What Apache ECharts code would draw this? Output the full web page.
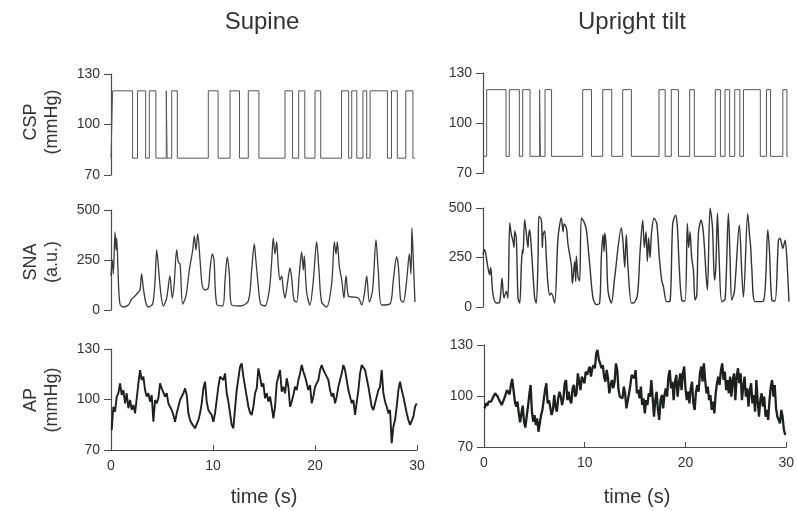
<!DOCTYPE html>
<html><head><meta charset="utf-8">
<script src="https://cdn.jsdelivr.net/npm/echarts@6/dist/echarts.min.js"></script>
<style>html,body{margin:0;padding:0;background:#fff}#c{width:797px;height:511px}</style>
</head><body><div id="c"></div>
<script>
// ---------- labels / ticks ----------
const columnTitles = ['Supine', 'Upright tilt'];
const rowNames = ['CSP\n(mmHg)', 'SNA\n(a.u.)', 'AP\n(mmHg)'];
const timeName = 'time (s)';
const timeTicks = [0, 10, 20, 30];
const pressureTicks = [70, 100, 130];
const snaTicks = [0, 250, 500];

// ---------- CSP (carotid sinus pressure), [time s, mmHg], held until next change ----------
const cspSupine = [[0,80],[0.16,120],[2.12,80],[2.6,120],[3.4,80],[3.76,120],[4.4,80],[5.42,120],[5.5,80],[5.95,120],[6.5,80],[9.54,120],[10.5,80],[11.67,120],[12.6,80],[13.46,120],[14.5,80],[17.06,120],[17.8,80],[18.4,120],[19.0,80],[20.0,120],[20.56,80],[22.6,120],[23.3,80],[23.6,120],[24.1,80],[24.7,120],[25.07,80],[25.4,120],[27.1,80],[27.5,120],[28.07,80],[28.9,120],[29.6,80],[29.8,80]];
const cspTilt = [[0,80],[0.36,120],[2.25,80],[2.57,120],[3.55,80],[3.88,120],[4.6,80],[5.53,120],[5.61,80],[6.06,120],[6.7,80],[9.74,120],[10.6,80],[11.7,120],[12.58,80],[13.65,120],[14.5,80],[17.2,120],[17.8,80],[18.4,120],[19.1,80],[20.2,120],[20.65,80],[22.7,120],[23.2,80],[23.65,120],[24.1,80],[24.6,120],[25.1,80],[25.45,120],[27.1,80],[27.7,120],[28.1,80],[29.3,120],[29.7,80],[29.8,80]];

// ---------- SNA (sympathetic nerve activity), [time s, a.u.] ----------
const snaSupine = [[0,170],[0.13,250],[0.23,180],[0.39,390],[0.49,300],[0.56,360],[0.72,150],[0.88,30],[1.2,15],[1.7,25],[2.03,55],[2.35,70],[2.61,85],[2.84,100],[3.0,180],[3.17,110],[3.4,40],[3.66,15],[4.08,30],[4.31,140],[4.48,300],[4.64,220],[4.87,90],[5.13,20],[5.46,60],[5.78,170],[6.0,60],[6.18,120],[6.44,300],[6.6,240],[6.77,230],[7.03,30],[7.35,70],[7.68,200],[8.01,300],[8.17,370],[8.33,300],[8.5,380],[8.73,250],[8.95,120],[9.22,100],[9.54,110],[9.7,200],[9.93,280],[10.1,250],[10.36,30],[10.95,20],[11.18,150],[11.4,265],[11.6,180],[11.83,25],[12.65,20],[13.46,45],[13.79,200],[14.05,330],[14.2,250],[14.44,120],[14.67,30],[15.1,20],[15.52,100],[15.75,240],[15.91,360],[16.08,280],[16.24,340],[16.4,220],[16.57,150],[16.73,170],[16.9,100],[17.06,60],[17.29,130],[17.55,210],[17.71,160],[17.94,50],[18.2,40],[18.46,180],[18.69,290],[18.86,200],[18.95,270],[19.18,90],[19.5,25],[19.84,150],[20.16,340],[20.39,200],[20.65,40],[21.14,15],[21.63,130],[21.9,340],[22.06,280],[22.19,340],[22.38,220],[22.62,150],[22.84,60],[23.04,170],[23.27,70],[23.6,65],[24.25,60],[24.58,25],[24.84,80],[25.07,170],[25.33,40],[25.65,100],[25.98,350],[26.2,200],[26.54,25],[27.35,30],[27.68,150],[28.0,265],[28.17,220],[28.4,50],[28.66,40],[28.99,150],[29.25,280],[29.41,180],[29.5,410],[29.64,250],[29.8,40]];
const snaTilt = [[0,264],[0.16,290],[0.33,250],[0.49,197],[0.65,163],[0.75,200],[0.98,62],[1.3,20],[1.63,25],[1.86,146],[2.05,45],[2.28,80],[2.44,45],[2.61,424],[2.77,365],[2.93,333],[3.03,300],[3.1,384],[3.26,343],[3.42,45],[3.59,20],[3.75,214],[3.85,290],[3.91,270],[4.07,441],[4.23,374],[4.4,300],[4.46,360],[4.56,390],[4.72,300],[5.05,45],[5.21,20],[5.38,247],[5.47,458],[5.7,440],[5.8,300],[5.87,365],[6.03,384],[6.19,247],[6.35,113],[6.52,60],[6.68,70],[7.0,20],[7.33,348],[7.66,450],[7.82,380],[7.92,420],[8.15,399],[8.31,315],[8.63,214],[8.73,120],[8.8,146],[8.96,230],[9.06,130],[9.12,258],[9.29,150],[9.45,131],[9.61,450],[9.87,430],[10.1,390],[10.43,214],[10.75,45],[11.08,12],[11.4,20],[11.56,250],[11.73,365],[11.83,280],[11.9,374],[12.05,300],[12.22,80],[12.54,20],[12.87,150],[13.52,399],[13.68,330],[13.85,200],[14.0,365],[14.17,200],[14.5,20],[14.7,20],[15.09,60],[15.35,280],[15.61,439],[15.77,300],[15.93,380],[16.06,230],[16.19,350],[16.32,250],[16.48,380],[16.72,448],[16.98,422],[17.23,250],[17.46,136],[17.63,103],[17.95,27],[18.28,30],[18.54,422],[18.83,464],[18.99,405],[19.18,200],[19.42,35],[19.75,30],[19.97,422],[20.1,300],[20.23,380],[20.39,250],[20.56,187],[20.72,35],[20.89,60],[21.05,372],[21.31,439],[21.54,372],[21.81,153],[21.93,86],[22.19,500],[22.42,405],[22.62,136],[22.75,200],[22.91,473],[23.07,254],[23.33,27],[23.66,40],[23.98,473],[24.14,254],[24.31,35],[24.57,80],[25.05,414],[25.29,170],[25.45,50],[25.87,473],[26.03,372],[26.16,300],[26.26,200],[26.59,27],[27.4,30],[27.83,389],[27.99,288],[28.22,35],[28.54,30],[28.87,338],[29.03,347],[29.3,296],[29.52,338],[29.68,254],[29.9,27]];

// ---------- AP (arterial pressure), sampled recordings, mmHg ----------
const apSupineStart = 0.07, apSupineStep = 0.1634; // seconds
const apSupine = [
81.9,95.7,92.8,101.7,103.7,109.6,102.7,105.6,97.7,103.7,
94.8,99.7,93.8,96.7,91.8,100.7,109.6,117.5,111.6,113.6,
105.6,101.7,103.7,98.7,102.7,86.8,99.7,97.7,100.7,109.6,
106.6,105.6,101.7,103.7,97.7,95.7,93.8,90.8,86.8,91.8,
95.7,99.7,100.7,103.7,106.6,102.7,91.8,87.8,85.8,84.9,
82.9,83.9,87.8,91.8,97.7,106.6,110.6,98.7,93.8,92.2,
90.8,86.8,91.8,99.7,107.6,113.6,114.6,111.6,115.5,103.7,
98.7,91.8,84.9,82.9,94.8,105.6,112.6,119.5,121.5,113.6,
107.6,101.7,95.7,92.2,90.8,95.7,103.7,106.6,118.5,113.6,
107.6,109.6,100.7,103.7,98.7,101.7,95.7,88.8,95.7,109.6,
113.6,117.5,104.7,107.6,103.7,112.6,107.6,95.7,98.7,102.7,
107.6,105.6,111.6,115.5,120.5,116.5,113.6,109.6,105.6,108.6,
97.7,101.7,107.6,109.6,111.6,117.5,120.5,117.5,115.5,113.6,
111.6,105.6,101.7,103.7,97.7,101.7,107.6,111.6,115.5,120.5,
117.5,111.6,105.6,101.7,97.7,99.7,90.8,89.8,105.6,115.5,
120.5,121.1,117.5,112.6,107.6,101.7,95.7,93.8,97.7,101.7,
105.6,107.6,117.5,103.7,98.7,95.7,91.8,93.8,74.0,83.9,
87.8,95.7,105.6,110.6,105.6,101.7,96.7,91.8,87.8,84.9,
83.9,89.8,95.7,97.7];
const apTiltStart = 0.065, apTiltStep = 0.1303; // seconds
const apTilt = [
92.7,95.7,94.3,96.7,97.6,96.7,98.6,99.6,101.6,102.5,
99.6,97.6,96.7,94.7,93.7,98.6,101.0,103.5,102.5,101.0,
106.5,110.0,103.5,96.7,93.7,96.7,89.8,84.5,89.8,94.3,
84.9,81.4,87.8,93.7,100.6,106.5,90.8,84.9,88.8,82.9,
86.9,79.0,78.6,88.8,91.8,90.8,103.5,107.5,95.7,97.6,
96.7,88.8,91.8,100.6,93.7,90.8,98.6,102.5,99.6,94.7,
98.6,107.5,109.4,97.6,102.5,97.6,95.7,104.5,106.5,99.6,
101.6,113.3,112.4,103.5,111.4,110.4,107.5,114.3,112.4,113.3,
117.3,111.4,116.3,118.2,116.3,125.1,127.1,121.2,119.2,116.3,
118.2,111.4,108.4,115.3,110.4,101.6,106.5,109.4,104.5,108.4,
119.2,115.3,103.5,99.6,98.6,98.6,105.5,101.6,92.7,93.7,
101.6,106.5,
112.4,111.4,110.4,115.3,101.6,103.5,98.6,105.5,94.7,98.6,
89.8,97.6,94.7,101.6,99.6,109.4,98.6,87.8,97.6,102.5,
91.8,85.9,97.6,100.6,92.7,100.6,104.5,99.6,111.4,115.3,
104.5,108.4,97.6,108.4,112.4,99.6,107.5,113.3,103.5,113.3,
117.3,104.5,97.6,102.5,95.7,104.5,108.4,95.7,91.8,102.5,
106.5,102.5,113.3,117.3,108.4,119.2,109.4,101.6,105.5,97.6,
100.6,91.8,96.7,89.8,101.6,107.5,111.4,106.5,115.3,119.2,
109.4,114.3,103.5,109.4,101.6,111.4,99.6,109.4,113.3,97.6,
111.4,116.3,107.5,113.3,97.6,105.5,111.4,99.6,104.5,93.7,
103.5,107.5,95.7,100.6,90.8,109.4,96.7,87.8,97.6,101.6,
93.7,99.6,87.8,91.8,85.9,97.6,105.5,109.4,99.6,106.5,
92.7,87.8,88.8,83.9,91.8,87.8,80.0,77.1];

// ---------- build ----------
const toXY = (vals, t0, dt) => vals.map((v, i) => [+(t0 + i * dt).toFixed(3), v]);
const seriesData = [cspSupine, cspTilt, snaSupine, snaTilt,
  toXY(apSupine, apSupineStart, apSupineStep), toXY(apTilt, apTiltStart, apTiltStep)];

const FONT = '"Liberation Sans", Arial, Helvetica, sans-serif';
const TXT = '#333';
const AX = '#4a4a4a';

const grids = [
  {left:111, top:74,  width:306, height:101},
  {left:483, top:73,  width:307, height:100},
  {left:111, top:210, width:306, height:100},
  {left:483, top:208, width:307, height:99},
  {left:111, top:349, width:306, height:101},
  {left:484, top:345, width:307, height:102}
];
const rows = [
  {min:70, max:130, ticks:pressureTicks},
  {min:0,  max:500, ticks:snaTicks},
  {min:70, max:130, ticks:pressureTicks}
];
const lineStyles = [
  {color:'#555', width:1},
  {color:'#555', width:1},
  {color:'#3a3a3a', width:1.3},
  {color:'#333', width:1.4},
  {color:'#1b221b', width:1.9},
  {color:'#1b221b', width:2.3}
];

const xAxis = grids.map((g, i) => ({
  gridIndex:i, type:'value', min:timeTicks[0], max:timeTicks[timeTicks.length-1], interval:10,
  show: i >= 4,
  axisLine:{show:true, onZero:false, lineStyle:{color:AX, width:1.2}},
  axisTick:{show:true, inside:true, length:5, lineStyle:{color:AX}},
  axisLabel:{show:true, fontSize:14, color:TXT, fontFamily:FONT, margin:9},
  splitLine:{show:false}
}));
const yAxis = grids.map((g, i) => {
  const r = rows[Math.floor(i / 2)];
  return {
    gridIndex:i, type:'value', min:r.min, max:r.max,
    axisLine:{show:true, lineStyle:{color:AX, width:1.2}},
    axisTick:{show:true, inside:false, length:7, customValues:r.ticks, lineStyle:{color:AX}},
    axisLabel:{show:true, customValues:r.ticks, fontSize:14, color:TXT, fontFamily:FONT, margin:11},
    splitLine:{show:false}
  };
});
const series = seriesData.map((d, i) => ({
  type:'line', xAxisIndex:i, yAxisIndex:i, data:d,
  step: i < 2 ? 'end' : false,
  smooth: (i === 2 || i === 3) ? 0.3 : false,
  symbol:'none', showSymbol:false, silent:true, clip:true,
  lineStyle:lineStyles[i]
}));

const graphic = [
  {type:'text', x:262, y:22, style:{text:columnTitles[0], font:'24px ' + FONT, fill:TXT, textAlign:'center', textVerticalAlign:'middle'}},
  {type:'text', x:632, y:22, style:{text:columnTitles[1], font:'24px ' + FONT, fill:TXT, textAlign:'center', textVerticalAlign:'middle'}},
  {type:'text', x:264, y:497, style:{text:timeName, font:'20px ' + FONT, fill:TXT, textAlign:'center', textVerticalAlign:'middle'}},
  {type:'text', x:637, y:497, style:{text:timeName, font:'20px ' + FONT, fill:TXT, textAlign:'center', textVerticalAlign:'middle'}}
];
const nameY = [122, 262, 400];
rowNames.forEach((n, r) => graphic.push({
  type:'text', x:42, y:nameY[r], rotation:Math.PI / 2,
  style:{text:n, font:'18px ' + FONT, lineHeight:21, fill:TXT, textAlign:'center', textVerticalAlign:'middle'}
}));

const chart = echarts.init(document.getElementById('c'), null, {renderer:'canvas', width:797, height:511});
chart.setOption({
  animation:false, backgroundColor:'#fff',
  grid:grids, xAxis, yAxis, series, graphic
});
</script></body></html>
